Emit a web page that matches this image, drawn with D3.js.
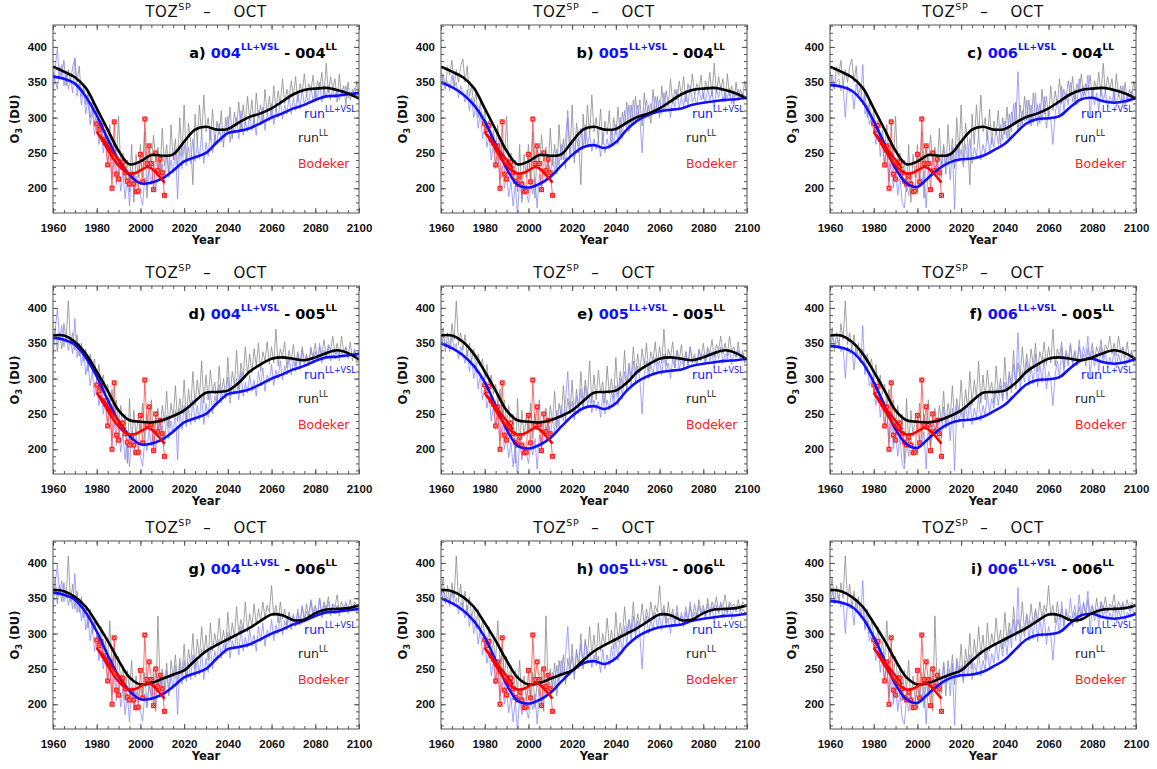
<!doctype html>
<meta charset=utf8>
<title>TOZ SP - OCT</title>
<style>
  body { margin: 0; background: white; }
  svg { display: block; font-family: "DejaVu Sans", sans-serif; }
  .tick text { font-size: 11.5px; font-weight: bold; fill: #111; }
  .tick line { stroke: #555; }
</style>
<svg width=1157 height=769></svg>
<script src=https://d3js.org/d3.v7.min.js></script>
<script>
  // annual values, 1960 .. 2100
  var years = d3.range(1960, 2101);
  var smoothYears = d3.range(1960, 2101, 5);

  var ll004Raw = [
    365, 352, 340, 372, 360, 381, 345, 368, 350, 372,
    383, 350, 373, 330, 345, 318, 335, 300, 322, 290,
    310, 285, 296, 262, 282, 250, 290, 240, 268, 232,
    302, 228, 250, 212, 240, 195, 262, 180, 248, 215,
    262, 205, 280, 186, 255, 230, 275, 238, 258, 222,
    285, 232, 262, 220, 290, 240, 270, 228, 300, 245,
    318, 236, 292, 265, 205, 305, 262, 318, 275, 332,
    280, 300, 268, 312, 262, 295, 276, 310, 258, 300,
    276, 315, 270, 308, 288, 322, 280, 318, 290, 330,
    296, 325, 288, 335, 300, 318, 292, 340, 305, 330,
    300, 345, 310, 338, 318, 355, 320, 340, 325, 352,
    330, 358, 322, 348, 335, 362, 330, 348, 338, 360,
    326, 352, 340, 364, 330, 377, 335, 358, 340, 355,
    322, 362, 330, 345, 318, 350, 325, 340, 330, 352,
    328
  ];
  var ll005Raw = [
    350, 372, 338, 365, 342, 378, 355, 410, 348, 365,
    340, 362, 332, 350, 325, 342, 310, 335, 318, 328,
    298, 320, 290, 305, 278, 292, 262, 285, 250, 270,
    235, 262, 225, 250, 180, 272, 205, 255, 218, 245,
    228, 265, 215, 250, 232, 270, 205, 245, 258, 228,
    262, 238, 282, 230, 265, 245, 290, 240, 272, 250,
    298, 242, 285, 258, 310, 262, 298, 272, 325, 265,
    305, 270, 312, 280, 295, 265, 318, 278, 300, 272,
    330, 276, 310, 290, 340, 285, 322, 300, 345, 305,
    335, 308, 342, 318, 350, 310, 338, 325, 352, 320,
    345, 322, 370, 318, 342, 330, 352, 315, 340, 325,
    348, 318, 338, 320, 345, 325, 335, 318, 342, 330,
    350, 325, 345, 335, 355, 330, 348, 340, 360, 335,
    350, 332, 360, 338, 345, 330, 352, 325, 340, 322,
    330
  ];
  var ll006Raw = [
    355, 380, 342, 368, 345, 372, 350, 410, 345, 370,
    335, 360, 330, 352, 322, 340, 308, 335, 300, 318,
    300, 282, 310, 270, 290, 262, 318, 255, 280, 240,
    268, 232, 255, 205, 248, 220, 262, 198, 240, 205,
    225, 208, 245, 195, 232, 212, 250, 190, 325, 228,
    250, 225, 258, 212, 262, 238, 270, 228, 265, 242,
    285, 235, 278, 255, 300, 250, 292, 265, 310, 270,
    298, 262, 315, 275, 300, 282, 322, 285, 305, 278,
    330, 288, 315, 295, 338, 300, 320, 305, 345, 302,
    328, 310, 342, 312, 335, 318, 345, 322, 340, 330,
    368, 325, 340, 315, 345, 320, 335, 312, 330, 318,
    325, 310, 330, 315, 338, 320, 342, 325, 348, 330,
    340, 325, 350, 328, 345, 335, 352, 330, 342, 338,
    355, 330, 345, 338, 342, 335, 348, 332, 345, 340,
    338
  ];
  var vsl004Raw = [
    330, 370, 398, 355, 375, 345, 362, 340, 355, 335,
    385, 330, 350, 318, 340, 305, 325, 290, 310, 275,
    298, 262, 285, 250, 270, 235, 258, 215, 240, 205,
    230, 196, 222, 185, 215, 175, 225, 192, 218, 200,
    190, 176, 215, 198, 228, 205, 232, 195, 238, 210,
    235, 205, 248, 215, 240, 222, 255, 185, 258, 228,
    262, 232, 258, 235, 270, 238, 262, 242, 278, 235,
    265, 245, 282, 250, 275, 262, 292, 265, 285, 272,
    302, 265, 290, 278, 300, 270, 310, 275, 295, 280,
    305, 282, 298, 275, 310, 290, 315, 282, 305, 295,
    320, 290, 312, 300, 325, 298, 318, 305, 330, 305,
    328, 310, 335, 312, 340, 318, 332, 320, 345, 322,
    338, 325, 350, 322, 340, 330, 345, 325, 342, 328,
    340, 325, 338, 330, 345, 328, 336, 332, 342, 330,
    338
  ];
  var vsl005Raw = [
    330, 362, 345, 352, 338, 360, 342, 350, 328, 345,
    335, 322, 340, 310, 328, 300, 318, 285, 305, 270,
    288, 258, 275, 240, 262, 228, 250, 212, 232, 200,
    218, 188, 210, 175, 205, 162, 212, 185, 205, 195,
    180, 205, 192, 215, 172, 220, 200, 225, 210, 235,
    218, 245, 225, 255, 232, 262, 240, 270, 310, 250,
    268, 242, 275, 250, 285, 255, 290, 262, 275, 252,
    270, 255, 268, 245, 278, 250, 270, 255, 282, 260,
    290, 262, 300, 272, 310, 285, 318, 290, 325, 295,
    318, 298, 250, 305, 325, 300, 320, 305, 330, 308,
    325, 305, 335, 310, 322, 300, 328, 315, 340, 312,
    330, 315, 338, 318, 345, 322, 330, 318, 340, 325,
    335, 320, 342, 325, 338, 315, 340, 328, 345, 322,
    335, 328, 342, 320, 338, 330, 340, 325, 335, 330,
    326
  ];
  var vsl006Raw = [
    340, 358, 348, 350, 355, 338, 345, 300, 345, 335,
    340, 312, 348, 330, 322, 375, 305, 318, 290, 300,
    285, 262, 290, 245, 270, 230, 258, 210, 240, 200,
    225, 190, 218, 180, 172, 208, 190, 215, 198, 205,
    195, 218, 205, 225, 172, 232, 215, 240, 225, 235,
    245, 215, 260, 230, 250, 212, 258, 170, 262, 238,
    255, 230, 262, 240, 270, 235, 258, 245, 275, 240,
    262, 248, 280, 250, 272, 258, 285, 262, 290, 268,
    295, 270, 305, 280, 320, 290, 365, 285, 310, 295,
    325, 290, 318, 292, 335, 288, 320, 295, 330, 285,
    310, 298, 262, 305, 325, 300, 345, 310, 335, 318,
    350, 322, 340, 318, 355, 325, 345, 330, 360, 300,
    340, 318, 335, 310, 345, 322, 338, 315, 330, 320,
    340, 315, 335, 322, 345, 318, 330, 325, 338, 330,
    328
  ];

  // smoothed curves, every 5 years
  var ll004Smooth = [372, 365, 357, 342, 313, 283, 253, 234, 238, 247, 246, 248, 266, 283, 287, 283, 284, 293, 301, 306, 313, 323, 333, 339, 341, 342, 339, 334, 327];
  var ll005Smooth = [361, 361, 352, 335, 310, 283, 255, 241, 239, 238, 241, 247, 255, 268, 280, 281, 283, 294, 310, 320, 328, 330, 328, 326, 330, 336, 340, 336, 327];
  var ll006Smooth = [362, 360, 352, 338, 315, 290, 262, 238, 228, 230, 236, 242, 248, 262, 275, 284, 292, 300, 308, 318, 327, 326, 319, 320, 329, 334, 335, 336, 340];
  var vsl004Smooth = [358, 355, 348, 330, 303, 270, 240, 219, 207, 208, 214, 225, 238, 244, 250, 265, 278, 281, 285, 292, 300, 306, 313, 318, 325, 330, 331, 333, 335];
  var vsl005Smooth = [350, 343, 333, 318, 295, 262, 228, 205, 201, 206, 216, 232, 247, 258, 261, 257, 265, 283, 296, 304, 309, 311, 313, 318, 321, 323, 325, 326, 328];
  var vsl006Smooth = [346, 344, 338, 322, 295, 262, 228, 207, 202, 215, 228, 237, 241, 242, 246, 254, 263, 278, 292, 298, 299, 302, 315, 326, 328, 323, 321, 323, 328];

  // Bodeker observations
  var bodekerYears = d3.range(1980, 2012);
  var bodekerValues = [
    291, 283, 289, 269, 264, 233, 260, 200, 294, 220,
    213, 237, 237, 222, 210, 206, 217, 206, 195, 196,
    248, 209, 298, 235, 260, 235, 198, 250, 225, 241,
    222, 190
  ];
  var bodekerFitYears = [1980, 1983, 1986, 1989, 1992, 1995, 1998, 2001, 2003, 2005, 2008, 2011];
  var bodekerFitValues = [280, 266, 250, 236, 226, 221, 222, 227, 230, 228, 219, 208];
  var bodekerTrendYears = [1981, 1993];
  var bodekerTrendValues = [276, 228];

  var runNames = ['004', '005', '006'];
  var llRaw = [ll004Raw, ll005Raw, ll006Raw];
  var llSmooth = [ll004Smooth, ll005Smooth, ll006Smooth];
  var vslRaw = [vsl004Raw, vsl005Raw, vsl006Raw];
  var vslSmooth = [vsl004Smooth, vsl005Smooth, vsl006Smooth];
  var panelLetters = ['a', 'b', 'c', 'd', 'e', 'f', 'g', 'h', 'i'];
  var xTicks = [1960, 1980, 2000, 2020, 2040, 2060, 2080, 2100];
  var yTicks = [200, 250, 300, 350, 400];

  var colLefts = [53, 441, 830];
  var rowTops = [25, 286, 541];
  var W = 306, H = 188;
  var BLUE = '#1010ff';

  var svg = d3.select('svg');

  rowTops.forEach(function (top, r) {
    colLefts.forEach(function (left, c) {
      drawPanel(left, top, r, c);
    });
  });

  function drawPanel(left, top, r, c) {
    var id = 'clip' + r + c;
    var x = d3.scaleLinear().domain([1960, 2100]).range([left, left + W]);
    var y = d3.scaleLinear().domain([165, 431]).range([top + H, top]);
    var g = svg.append('g');

    svg.append('clipPath').attr('id', id)
      .append('rect').attr('x', left).attr('y', top).attr('width', W).attr('height', H);

    var plot = g.append('g').attr('clip-path', 'url(#' + id + ')');

    var rawLine = d3.line().x(function (d, i) { return x(years[i]); }).y(function (d) { return y(d); });
    var smoothLine = d3.line()
      .x(function (d, i) { return x(smoothYears[i]); })
      .y(function (d) { return y(d); })
      .curve(d3.curveCatmullRom.alpha(0.5));
    var fitLine = d3.line()
      .x(function (d, i) { return x(bodekerFitYears[i]); })
      .y(function (d) { return y(d); })
      .curve(d3.curveCatmullRom.alpha(0.5));
    var obsLine = d3.line().x(function (d, i) { return x(bodekerYears[i]); }).y(function (d) { return y(d); });
    var trendLine = d3.line().x(function (d, i) { return x(bodekerTrendYears[i]); }).y(function (d) { return y(d); });

    plot.append('path').attr('d', rawLine(llRaw[r]))
      .attr('fill', 'none').attr('stroke', '#8c8c8c').attr('stroke-width', 0.8);
    plot.append('path').attr('d', rawLine(vslRaw[c]))
      .attr('fill', 'none').attr('stroke', '#8c8cff').attr('stroke-width', 0.8);

    plot.append('path').attr('d', obsLine(bodekerValues))
      .attr('fill', 'none').attr('stroke', '#ff4a4a').attr('stroke-width', 0.8);

    var marks = plot.selectAll('.obs').data(bodekerValues).enter().append('g')
      .attr('transform', function (d, i) { return 'translate(' + x(bodekerYears[i]) + ',' + y(d) + ')'; });
    marks.append('rect').attr('x', -2.5).attr('y', -2.5).attr('width', 5).attr('height', 5).attr('fill', '#ff1a1a');
    marks.append('path').attr('d', d3.symbol(d3.symbolX, 7)).attr('stroke', '#ffc0c0').attr('stroke-width', 0.8);

    plot.append('path').attr('d', smoothLine(vslSmooth[c]))
      .attr('fill', 'none').attr('stroke', BLUE).attr('stroke-width', 2.6);
    plot.append('path').attr('d', smoothLine(llSmooth[r]))
      .attr('fill', 'none').attr('stroke', '#000').attr('stroke-width', 2.6);
    plot.append('path').attr('d', fitLine(bodekerFitValues))
      .attr('fill', 'none').attr('stroke', '#ff0000').attr('stroke-width', 2.6);
    plot.append('path').attr('d', trendLine(bodekerTrendValues))
      .attr('fill', 'none').attr('stroke', '#ff0000').attr('stroke-width', 2.6);

    // axes, ticks pointing inward
    var noLabel = function () { return ''; };
    g.append('g').attr('transform', 'translate(0,' + (top + H) + ')')
      .call(d3.axisBottom(x).tickValues(xTicks).tickFormat(d3.format('d')).tickSizeInner(-5).tickSizeOuter(0).tickPadding(11));
    g.append('g').attr('transform', 'translate(0,' + (top + H) + ')')
      .call(d3.axisBottom(x).tickValues(d3.range(1965, 2100, 5)).tickFormat(noLabel).tickSizeInner(-3).tickSizeOuter(0));
    g.append('g').attr('transform', 'translate(0,' + top + ')')
      .call(d3.axisTop(x).tickValues(xTicks).tickFormat(noLabel).tickSizeInner(-5).tickSizeOuter(0));
    g.append('g').attr('transform', 'translate(0,' + top + ')')
      .call(d3.axisTop(x).tickValues(d3.range(1965, 2100, 5)).tickFormat(noLabel).tickSizeInner(-3).tickSizeOuter(0));
    g.append('g').attr('transform', 'translate(' + left + ',0)')
      .call(d3.axisLeft(y).tickValues(yTicks).tickSizeInner(-5).tickSizeOuter(0).tickPadding(6));
    g.append('g').attr('transform', 'translate(' + left + ',0)')
      .call(d3.axisLeft(y).tickValues(d3.range(170, 431, 10)).tickFormat(noLabel).tickSizeInner(-3).tickSizeOuter(0));
    g.append('g').attr('transform', 'translate(' + (left + W) + ',0)')
      .call(d3.axisRight(y).tickValues(yTicks).tickFormat(noLabel).tickSizeInner(-5).tickSizeOuter(0));
    g.append('g').attr('transform', 'translate(' + (left + W) + ',0)')
      .call(d3.axisRight(y).tickValues(d3.range(170, 431, 10)).tickFormat(noLabel).tickSizeInner(-3).tickSizeOuter(0));
    g.selectAll('.domain').remove();

    g.append('rect').attr('x', left).attr('y', top).attr('width', W).attr('height', H)
      .attr('fill', 'none').attr('stroke', '#555').attr('stroke-width', 1);

    // title
    var t = g.append('text').attr('x', left + W / 2).attr('y', top - 8)
      .attr('text-anchor', 'middle').attr('font-size', 15).attr('letter-spacing', 0.6).attr('fill', '#111');
    t.append('tspan').text('TOZ');
    t.append('tspan').attr('font-size', 9.5).attr('dy', -7).text('SP');
    t.append('tspan').attr('dy', 7).attr('dx', 12).text('–');
    t.append('tspan').attr('dx', 22).text('OCT');

    // axis titles
    g.append('text').attr('x', left + W / 2).attr('y', top + H + 31)
      .attr('text-anchor', 'middle').attr('font-size', 11.5).attr('font-weight', 'bold').attr('fill', '#111').text('Year');
    var yl = g.append('text')
      .attr('transform', 'translate(' + (left - 34) + ',' + (top + H / 2) + ') rotate(-90)')
      .attr('text-anchor', 'middle').attr('font-size', 11.5).attr('font-weight', 'bold').attr('fill', '#111');
    yl.append('tspan').text('O');
    yl.append('tspan').attr('font-size', 8).attr('dy', 3).text('3');
    yl.append('tspan').attr('dy', -3).text(' (DU)');

    // panel label
    var p = g.append('text').attr('x', left + W - 22).attr('y', top + 33)
      .attr('text-anchor', 'end').attr('font-size', 14.5).attr('font-weight', 'bold').attr('fill', '#000');
    p.append('tspan').text(panelLetters[r * 3 + c] + ') ');
    p.append('tspan').attr('fill', BLUE).text(runNames[c]);
    p.append('tspan').attr('fill', BLUE).attr('font-size', 9).attr('dy', -8).text('LL+VSL');
    p.append('tspan').attr('dy', 8).text('  - ' + runNames[r]);
    p.append('tspan').attr('font-size', 9).attr('dy', -8).text('LL');

    // legend
    var l1 = g.append('text').attr('x', left + 251).attr('y', top + 93).attr('font-size', 12.5).attr('fill', BLUE);
    l1.append('tspan').text('run');
    l1.append('tspan').attr('font-size', 8).attr('dy', -6).text('LL+VSL');
    var l2 = g.append('text').attr('x', left + 245).attr('y', top + 117).attr('font-size', 12.5).attr('fill', '#222');
    l2.append('tspan').text('run');
    l2.append('tspan').attr('font-size', 8).attr('dy', -6).text('LL');
    g.append('text').attr('x', left + 245).attr('y', top + 143).attr('font-size', 12.5).attr('fill', '#ff2020').text('Bodeker');
  }
</script>
